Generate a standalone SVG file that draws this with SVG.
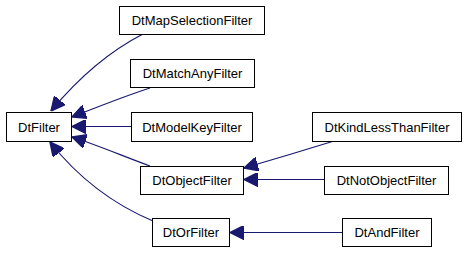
<svg xmlns="http://www.w3.org/2000/svg" width="467" height="253" viewBox="0 0 467 253">
<style>
.n rect{fill:#fff;stroke:#000;stroke-width:1}
.n text{font-family:"Liberation Sans",Arial,sans-serif;font-size:13px;fill:#000;text-anchor:middle}
.e path{fill:none;stroke:#191970;stroke-width:1.2}
</style>
<defs>
<marker id="ah" viewBox="0 0 10 10" refX="10" refY="5" markerWidth="14" markerHeight="14" markerUnits="userSpaceOnUse" orient="auto">
<path d="M0,0 L10,5 L0,10 z" fill="#191970" stroke="#191970"/>
</marker>
</defs>
<rect width="467" height="253" fill="#fff"/>
<g class="e">
<path d="M143,34 C112,50 80,76 51,111" marker-end="url(#ah)"/>
<path d="M150,88 C125,96 100,106 72,117" marker-end="url(#ah)"/>
<path d="M131,126.5 L72,126.5" marker-end="url(#ah)"/>
<path d="M150,166 C125,157 100,146 72,137" marker-end="url(#ah)"/>
<path d="M153,221 C115,205 80,180 50,142" marker-end="url(#ah)"/>
<path d="M334,141 C305,150 275,159 244,168" marker-end="url(#ah)"/>
<path d="M324,179.5 L244,179.5" marker-end="url(#ah)"/>
<path d="M342,232.5 L230,232.5" marker-end="url(#ah)"/>
</g>
<g id="DtFilter" class="n"><rect x="6.5" y="112.5" width="65" height="29"/><text x="39" y="131.5">DtFilter</text></g>
<g id="DtMapSelectionFilter" class="n"><rect x="119.5" y="6.5" width="145" height="28"/><text x="192" y="25">DtMapSelectionFilter</text></g>
<g id="DtMatchAnyFilter" class="n"><rect x="130.5" y="59.5" width="124" height="28"/><text x="192.5" y="78">DtMatchAnyFilter</text></g>
<g id="DtModelKeyFilter" class="n"><rect x="131.5" y="112.5" width="121" height="29"/><text x="192" y="131.5">DtModelKeyFilter</text></g>
<g id="DtObjectFilter" class="n"><rect x="140.5" y="166.5" width="103" height="28"/><text x="192" y="185">DtObjectFilter</text></g>
<g id="DtOrFilter" class="n"><rect x="152.5" y="218.5" width="77" height="28"/><text x="191" y="237">DtOrFilter</text></g>
<g id="DtKindLessThanFilter" class="n"><rect x="312.5" y="112.5" width="149" height="29"/><text x="387" y="131.5">DtKindLessThanFilter</text></g>
<g id="DtNotObjectFilter" class="n"><rect x="324.5" y="166.5" width="124" height="28"/><text x="386.5" y="185">DtNotObjectFilter</text></g>
<g id="DtAndFilter" class="n"><rect x="342.5" y="218.5" width="89" height="28"/><text x="387" y="237">DtAndFilter</text></g>
</svg>
